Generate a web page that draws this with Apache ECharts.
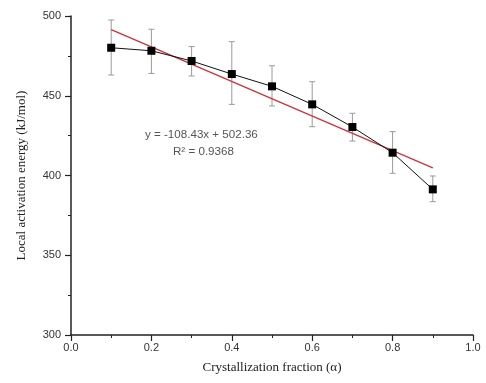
<!DOCTYPE html>
<html>
<head>
<meta charset="utf-8">
<script src="https://cdn.jsdelivr.net/npm/echarts@6/dist/echarts.min.js"></script>
<style>
  html, body { margin: 0; padding: 0; background: #fff; }
  #chart { width: 486px; height: 383px; }
</style>
</head>
<body>
<div id="chart"></div>
<script>
// Crystallization fraction (alpha) and local activation energy (kJ/mol)
const alpha = [0.1, 0.2, 0.3, 0.4, 0.5, 0.6, 0.7, 0.8, 0.9];
const energy = [480.1, 478.2, 471.8, 463.6, 455.9, 444.6, 430.4, 414.3, 391.3];
const errUp = [17.4, 13.5, 9.0, 20.3, 12.9, 14.2, 8.6, 13.2, 8.4];
const errDown = [17.1, 14.2, 9.4, 19.0, 12.3, 14.0, 8.8, 12.9, 7.7];

// Linear fit reported on the chart
const fitSlope = -108.43;
const fitIntercept = 502.36;
const fitRange = [0.1, 0.9];

const xTicks = { min: 0, max: 1, interval: 0.2 };
const yTicks = { min: 300, max: 500, interval: 50 };

const fitLine = fitRange.map(x => [x, fitSlope * x + fitIntercept]);
const errData = alpha.map((x, i) => [x, energy[i] - errDown[i], energy[i] + errUp[i]]);

const chart = echarts.init(document.getElementById('chart'), null, { renderer: 'canvas' });

const axisCommon = {
  axisLine: { show: true, lineStyle: { color: '#222', width: 1.5 } },
  axisTick: { show: true, inside: false, length: 6, lineStyle: { color: '#222', width: 1.2 } },
  minorTick: { show: true, splitNumber: 2, length: 3, lineStyle: { color: '#222', width: 1 } },
  splitLine: { show: false },
  axisLabel: { color: '#333', fontFamily: 'Liberation Sans', fontSize: 11 },
  nameTextStyle: { color: '#222', fontFamily: 'Liberation Serif', fontSize: 13 }
};

chart.setOption({
  backgroundColor: '#fff',
  animation: false,
  grid: { left: 71, right: 13, top: 16, bottom: 48 },
  xAxis: Object.assign({}, axisCommon, {
    type: 'value',
    min: xTicks.min, max: xTicks.max, interval: xTicks.interval,
    name: 'Crystallization fraction (\u03b1)',
    nameLocation: 'middle', nameGap: 26,
    axisLabel: Object.assign({}, axisCommon.axisLabel, {
      margin: 7,
      formatter: v => v.toFixed(1)
    })
  }),
  yAxis: Object.assign({}, axisCommon, {
    type: 'value',
    min: yTicks.min, max: yTicks.max, interval: yTicks.interval,
    name: 'Local activation energy (kJ/mol)',
    nameLocation: 'middle', nameGap: 43, nameRotate: 90,
    axisLabel: Object.assign({}, axisCommon.axisLabel, { margin: 10 })
  }),
  graphic: [
    {
      type: 'text', left: 145, top: 129,
      style: { text: 'y = -108.43x + 502.36', fill: '#555', font: '11.6px "Liberation Sans"' }
    },
    {
      type: 'text', left: 173, top: 146,
      style: { text: 'R\u00b2 = 0.9368', fill: '#555', font: '11.6px "Liberation Sans"' }
    }
  ],
  series: [
    {
      type: 'custom',
      name: 'error',
      z: 1,
      renderItem: (params, api) => {
        const x = api.value(0);
        const lo = api.coord([x, api.value(1)]);
        const hi = api.coord([x, api.value(2)]);
        const cap = 3;
        const style = { stroke: '#9a9a9a', lineWidth: 1 };
        return {
          type: 'group',
          children: [
            { type: 'line', shape: { x1: lo[0], y1: lo[1], x2: hi[0], y2: hi[1] }, style },
            { type: 'line', shape: { x1: lo[0] - cap, y1: lo[1], x2: lo[0] + cap, y2: lo[1] }, style },
            { type: 'line', shape: { x1: hi[0] - cap, y1: hi[1], x2: hi[0] + cap, y2: hi[1] }, style }
          ]
        };
      },
      encode: { x: 0, y: [1, 2] },
      data: errData
    },
    {
      type: 'line',
      name: 'fit',
      z: 2,
      data: fitLine,
      showSymbol: false,
      symbol: 'none',
      lineStyle: { color: '#d0303a', width: 1.3 }
    },
    {
      type: 'line',
      name: 'energy',
      z: 3,
      data: alpha.map((x, i) => [x, energy[i]]),
      symbol: 'rect',
      symbolSize: 8,
      itemStyle: { color: '#000' },
      lineStyle: { color: '#111', width: 1 }
    }
  ]
});
</script>
</body>
</html>
